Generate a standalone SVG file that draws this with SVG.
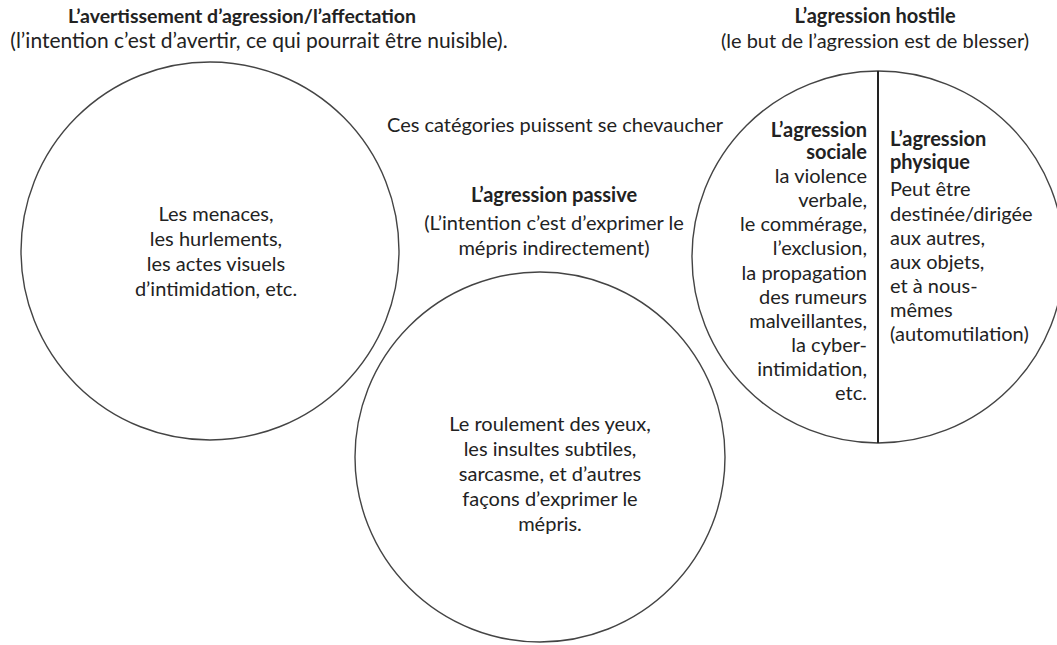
<svg xmlns="http://www.w3.org/2000/svg" width="1057" height="645" viewBox="0 0 1057 645">
<style>
text{font-family:Lato,"Open Sans","Liberation Sans",sans-serif;font-size:20px;fill:#222}
.b{font-weight:bold}
.c{text-anchor:middle}
.r{text-anchor:end}
.circ{fill:none;stroke:#444;stroke-width:1.4}
.div{stroke:#222;stroke-width:2}
</style>
<rect width="1057" height="645" fill="#fff"/>
<g id="titles">
<text class="b c" x="242" y="23" style="font-size:19.5px">L’avertissement d’agression/l’affectation</text>
<text class="c" x="259" y="48" style="font-size:21px">(l’intention c’est d’avertir, ce qui pourrait être nuisible).</text>
<text class="b c" x="875" y="23">L’agression hostile</text>
<text class="c" x="875" y="48">(le but de l’agression est de blesser)</text>
<text class="c" x="555" y="132">Ces catégories puissent se chevaucher</text>
</g>
<g id="node-warning">
<circle class="circ" cx="210" cy="251" r="189"/>
<text class="c" x="216" y="221">Les menaces,</text>
<text class="c" x="216" y="246">les hurlements,</text>
<text class="c" x="216" y="271">les actes visuels</text>
<text class="c" x="216" y="296">d’intimidation, etc.</text>
</g>
<g id="node-passive">
<text class="b c" x="554" y="202">L’agression passive</text>
<text class="c" x="554" y="230">(L’intention c’est d’exprimer le</text>
<text class="c" x="554" y="255">mépris indirectement)</text>
<circle class="circ" cx="540" cy="457" r="185"/>
<text class="c" x="550" y="431">Le roulement des yeux,</text>
<text class="c" x="550" y="456">les insultes subtiles,</text>
<text class="c" x="550" y="481">sarcasme, et d’autres</text>
<text class="c" x="550" y="506">façons d’exprimer le</text>
<text class="c" x="550" y="531">mépris.</text>
</g>
<g id="node-hostile">
<circle class="circ" cx="878" cy="257" r="186"/>
<line class="div" x1="878" y1="71" x2="878" y2="443"/>
<g id="node-social">
<text class="b r" x="867" y="137">L’agression</text>
<text class="b r" x="867" y="159">sociale</text>
<text class="r" x="867" y="183">la violence</text>
<text class="r" x="867" y="207">verbale,</text>
<text class="r" x="867" y="231">le commérage,</text>
<text class="r" x="867" y="255">l’exclusion,</text>
<text class="r" x="867" y="280">la propagation</text>
<text class="r" x="867" y="304">des rumeurs</text>
<text class="r" x="867" y="328">malveillantes,</text>
<text class="r" x="867" y="352">la cyber-</text>
<text class="r" x="867" y="376">intimidation,</text>
<text class="r" x="867" y="400">etc.</text>
</g>
<g id="node-physical">
<text class="b" x="890" y="146">L’agression</text>
<text class="b" x="890" y="169">physique</text>
<text x="890" y="196">Peut être</text>
<text x="890" y="221">destinée/dirigée</text>
<text x="890" y="245">aux autres,</text>
<text x="890" y="269">aux objets,</text>
<text x="890" y="293">et à nous-</text>
<text x="890" y="317">mêmes</text>
<text x="890" y="341">(automutilation)</text>
</g>
</g>
<g id="connectors"></g>
</svg>
